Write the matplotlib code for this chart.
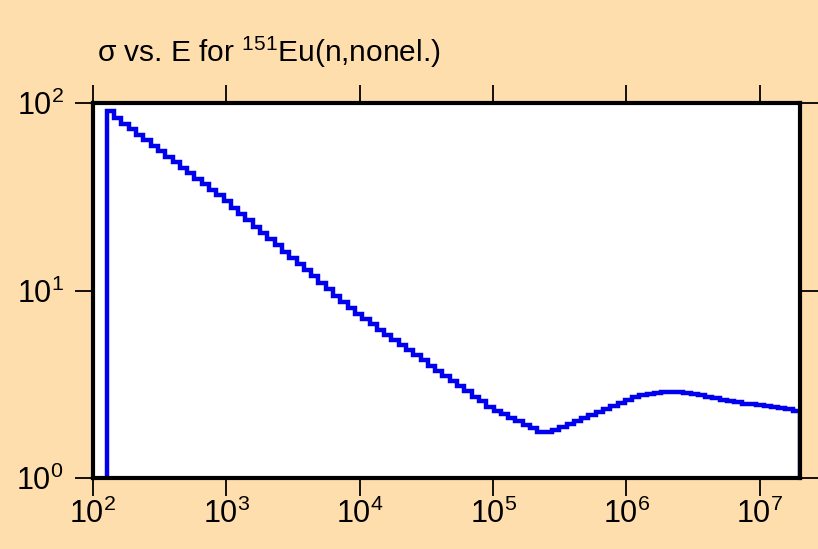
import numpy as np
import matplotlib
matplotlib.use("Agg")
import matplotlib.pyplot as plt

# --- dados ---
e_min = 127.0      # eV, inicio do histograma
e_max = 2.0e7      # eV, fim do histograma
n_bins = 95

# secao de choque (barns) por grupo
sigma = [91.2, 83.0, 77.6, 72.6, 67.8, 63.4, 59.2, 55.3, 51.6, 48.3,
         45.2, 42.2, 39.4, 36.8, 34.4, 32.2, 29.9, 27.7, 25.6, 23.7,
         21.9, 20.3, 18.8, 17.4, 16.1, 14.9, 13.8, 12.8, 11.9, 11.0,
         10.2, 9.40, 8.71, 8.07, 7.48, 7.03, 6.61, 6.19, 5.82, 5.46,
         5.13, 4.81, 4.52, 4.25, 3.98, 3.74, 3.51, 3.30, 3.09, 2.90,
         2.72, 2.56, 2.40, 2.29, 2.19, 2.09, 2.01, 1.92, 1.84, 1.76,
         1.75, 1.81, 1.88, 1.95, 2.02, 2.10, 2.18, 2.26, 2.34, 2.43,
         2.52, 2.62, 2.69, 2.76, 2.82, 2.85, 2.87, 2.88, 2.87, 2.84,
         2.81, 2.77, 2.72, 2.66, 2.61, 2.56, 2.53, 2.49, 2.47, 2.44,
         2.41, 2.38, 2.35, 2.32, 2.29]

titulo = r"σ vs. E for $^{151}$Eu(n,nonel.)"

edges = np.geomspace(e_min, e_max, n_bins + 1)

plt.rcParams['font.family'] = ['Liberation Sans', 'DejaVu Sans']
plt.rcParams['mathtext.fontset'] = 'custom'
plt.rcParams['mathtext.rm'] = 'Liberation Sans'
plt.rcParams['mathtext.it'] = 'Liberation Sans'
plt.rcParams['mathtext.bf'] = 'Liberation Sans'

fundo = '#FFDEAD'
fig = plt.figure(figsize=(8.18, 5.49), dpi=100, facecolor=fundo)
ax = fig.add_axes([93/818, 71/549, 707/818, 375/549])
ax.set_facecolor('white')

ax.stairs(sigma, edges, baseline=1.0, color='#0000EE', linewidth=3.2)

ax.set_xscale('log')
ax.set_yscale('log')
ax.set_xlim(100, e_max)
ax.set_ylim(1, 100)

ax.xaxis.set_major_locator(matplotlib.ticker.LogLocator(base=10, numticks=10))
ax.yaxis.set_major_locator(matplotlib.ticker.LogLocator(base=10, numticks=10))
ax.xaxis.set_minor_locator(matplotlib.ticker.NullLocator())
ax.yaxis.set_minor_locator(matplotlib.ticker.NullLocator())

ax.tick_params(which='major', direction='out', length=13, width=1.3,
               top=True, right=True, labelsize=22, colors='black')
ax.tick_params(axis='x', pad=2)
ax.tick_params(axis='y', pad=8)

for s in ax.spines.values():
    s.set_linewidth(3)
    s.set_color('black')

fig.text(97/818, 1 - 62/549, titulo, fontsize=21.5, va='baseline', ha='left')

fig.savefig('out.png', dpi=100, facecolor=fundo)
